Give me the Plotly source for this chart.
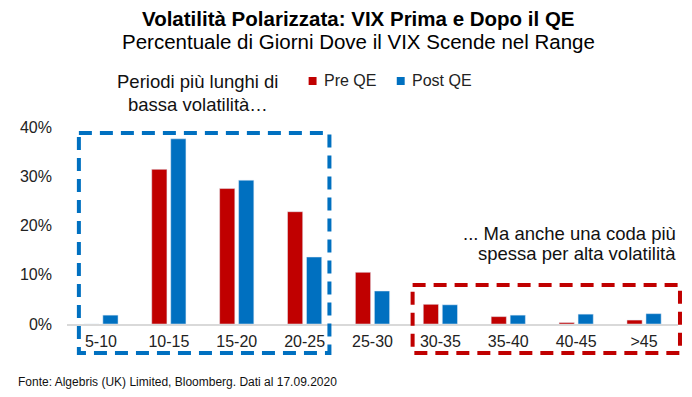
import plotly.graph_objects as go

categories = ["5-10", "10-15", "15-20", "20-25", "25-30", "30-35", "35-40", "40-45", ">45"]
pre_qe = [0.0, 31.4, 27.5, 22.8, 10.5, 4.0, 1.5, 0.3, 0.8]
post_qe = [1.8, 37.6, 29.2, 13.6, 6.7, 3.9, 1.8, 2.0, 2.1]
y_ticks = [0, 10, 20, 30, 40]
series_names = ["Pre QE", "Post QE"]

RED = "#C00000"
BLUE = "#0070C0"
FONT = "Liberation Sans, Arial, sans-serif"
WIN_W, WIN_H = 692, 397
OFF = 8  # default page body margin
L, R, T, B = 61, 678, 127, 324  # plot area in window pixels


def px(x):
    return (x - L) / (R - L)


def py(y):
    return (B - y) / (B - T)


fig = go.Figure()
fig.add_trace(go.Bar(name=series_names[0], x=categories, y=[v / 100 for v in pre_qe],
                     marker=dict(color=RED)))
fig.add_trace(go.Bar(name=series_names[1], x=categories, y=[v / 100 for v in post_qe],
                     marker=dict(color=BLUE)))

annotations = [
    dict(text="<b>Volatilità Polarizzata: VIX Prima e Dopo il QE</b>", x=px(355), y=py(18),
         font=dict(size=20.5, color="#000")),
    dict(text="Percentuale di Giorni Dove il VIX Scende nel Range", x=px(355), y=py(42),
         font=dict(size=20.5, color="#000")),
    dict(text="Periodi più lunghi di", x=px(193), y=py(81), font=dict(size=18.5, color="#111")),
    dict(text="bassa volatilità…", x=px(193), y=py(104), font=dict(size=18.5, color="#111")),
    dict(text="... Ma anche una coda più", x=px(678), y=py(233), xanchor="right",
         font=dict(size=18.5, color="#111")),
    dict(text="spessa per alta volatilità", x=px(678), y=py(253), xanchor="right",
         font=dict(size=18.5, color="#111")),
    dict(text="Fonte: Algebris (UK) Limited, Bloomberg. Dati al 17.09.2020", x=px(9), y=py(382),
         xanchor="left", font=dict(size=12, color="#111")),
    # legend texts
    dict(text=series_names[0], x=px(318), y=py(80), xanchor="left", font=dict(size=16, color="#222")),
    dict(text=series_names[1], x=px(407), y=py(80), xanchor="left", font=dict(size=16, color="#222")),
]
for a in annotations:
    a.setdefault("xanchor", "center")
    a.update(xref="paper", yref="paper", yanchor="middle", showarrow=False)

shapes = [
    dict(type="rect", xref="paper", yref="paper", x0=px(73), x1=px(326), y0=py(133), y1=py(353),
         line=dict(color=BLUE, width=4, dash="13px,8px")),
    dict(type="rect", xref="paper", yref="paper", x0=px(410), x1=px(680), y0=py(285), y1=py(353),
         line=dict(color=RED, width=4, dash="13px,8px")),
    # legend swatches
    dict(type="rect", xref="paper", yref="paper", x0=px(305), x1=px(313), y0=py(77), y1=py(85),
         line=dict(width=0), fillcolor=RED),
    dict(type="rect", xref="paper", yref="paper", x0=px(394), x1=px(402), y0=py(77), y1=py(85),
         line=dict(width=0), fillcolor=BLUE),
]

fig.update_layout(
    width=WIN_W - OFF, height=WIN_H - OFF,
    margin=dict(l=L - OFF, r=WIN_W - R, t=T - OFF, b=WIN_H - B, pad=0),
    paper_bgcolor="white", plot_bgcolor="white",
    font=dict(family=FONT, size=16, color="#222"),
    barmode="group", bargap=0.44, bargroupgap=0.2,
    showlegend=False,
    annotations=annotations,
    shapes=shapes,
    xaxis=dict(type="category", showline=True, linecolor="#D9D9D9", linewidth=2,
               ticks="", showgrid=False, ticklabelstandoff=2, tickfont=dict(size=16, color="#222")),
    yaxis=dict(range=[0, 0.4], tickvals=[v / 100 for v in y_ticks], tickformat=".0%",
               showgrid=False, zeroline=False, showline=False, ticks="",
               ticklabelstandoff=14, tickfont=dict(size=16, color="#222")),
)

fig.write_html("out.html")
